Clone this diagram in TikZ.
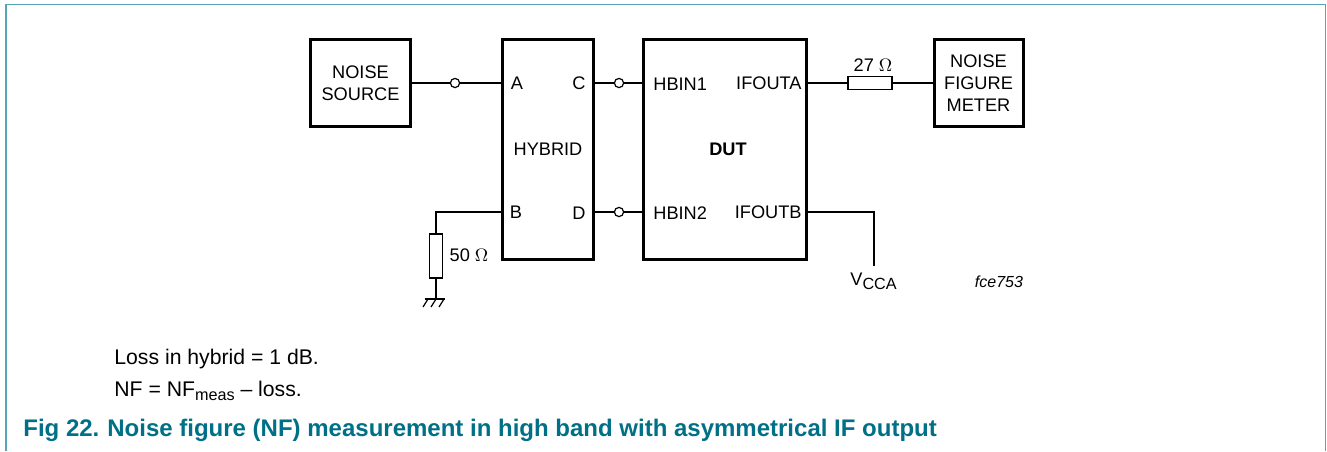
\documentclass[tikz,border=0pt]{standalone}
\usepackage{fontspec}
\setmainfont{Liberation Sans}
\usepackage{tikz}
\usetikzlibrary{positioning, calc}
\definecolor{nxpteal}{RGB}{0,112,135}
\definecolor{framelight}{RGB}{85,165,182}
\newcommand{\lowtext}[2]{\raisebox{-#1}{\fontsize{8.1}{9}\selectfont #2}}
\tikzset{
    blockbox/.style={draw, line width=1.5pt, inner sep=0pt, align=center, font=\fontsize{9.1}{11}\selectfont},
    wirenode/.style={draw, circle, line width=0.6pt, minimum size=4.6pt, inner sep=0pt, fill=white},
    resistor/.style={draw, line width=0.6pt, inner sep=0pt, fill=white},
    labeltext/.style={inner sep=0pt, font=\fontsize{9.1}{11}\selectfont},
    notetext/.style={inner sep=0pt, anchor=base west, font=\fontsize{10.6}{12}\selectfont},
    captiontext/.style={inner sep=0pt, anchor=base west, text=nxpteal, font=\fontsize{12}{14}\selectfont\bfseries},
    wire/.style={line width=0.6pt}
}
\begin{document}
\begin{tikzpicture}[x=0.5pt, y=-0.5pt]
    \useasboundingbox (0,0) rectangle (1327,451);

    % frame
    \draw[framelight, line width=0.9pt] (6,451) -- (6,4.5) -- (1325.5,4.5) -- (1325.5,451);

    % blocks
    \node[blockbox, minimum width=50pt, minimum height=43.5pt] (source) at (360.5,83) {NOISE\\SOURCE};
    \node[blockbox, minimum width=45.5pt, minimum height=110pt] (hybrid) at (547.5,149) {};
    \node[blockbox, minimum width=81.5pt, minimum height=110pt] (dut) at (724.5,149) {};
    \node[blockbox, minimum width=44.5pt, minimum height=43.5pt] (meter) at (978.5,83) {NOISE\\FIGURE\\METER};

    % labels inside the blocks
    \node[labeltext] (portA) at (517,83) {A};
    \node[labeltext] (portC) at (579,83) {C};
    \node[labeltext] (portB) at (516,212) {B};
    \node[labeltext] (portD) at (579,213) {D};
    \node[labeltext] (hybridname) at (548,149) {HYBRID};
    \node[labeltext, font=\fontsize{9.1}{11}\selectfont\bfseries] (dutname) at (728,149) {DUT};
    \node[labeltext, anchor=west] (hbinone) at (653,84) {HBIN1};
    \node[labeltext, anchor=west] (hbintwo) at (653,213) {HBIN2};
    \node[labeltext, anchor=east] (ifouta) at (802,83) {IFOUTA};
    \node[labeltext, anchor=east] (ifoutb) at (802,212) {IFOUTB};

    % anchors on the block sides
    \coordinate (srcout) at (source.east |- 0,83);
    \coordinate (hybA) at (hybrid.west |- 0,83);
    \coordinate (hybB) at (hybrid.west |- 0,212);
    \coordinate (hybC) at (hybrid.east |- 0,83);
    \coordinate (hybD) at (hybrid.east |- 0,212);
    \coordinate (dutone) at (dut.west |- 0,83);
    \coordinate (duttwo) at (dut.west |- 0,212);
    \coordinate (dutA) at (dut.east |- 0,83);
    \coordinate (dutB) at (dut.east |- 0,212);
    \coordinate (meterin) at (meter.west |- 0,83);

    % wires with the small circles
    \node[wirenode] (ringA) at (455,83) {};
    \node[wirenode] (ringC) at (619,83) {};
    \node[wirenode] (ringD) at (619,212) {};
    \draw[wire] (srcout) -- (ringA);
    \draw[wire] (ringA) -- (hybA);
    \draw[wire] (hybC) -- (ringC);
    \draw[wire] (ringC) -- (dutone);
    \draw[wire] (hybD) -- (ringD);
    \draw[wire] (ringD) -- (duttwo);

    % output resistor
    \node[resistor, minimum width=22pt, minimum height=6.5pt] (resout) at (870,83) {};
    \node[labeltext] (resoutlabel) at (873,65) {27 $\Omega$};
    \draw[wire] (dutA) -- (resout);
    \draw[wire] (resout) -- (meterin);

    % resistor to ground
    \node[resistor, minimum width=6.5pt, minimum height=22pt] (resgnd) at (436,256) {};
    \node[labeltext] (resgndlabel) at (469,255) {50 $\Omega$};
    \coordinate (bcorner) at (436,212);
    \coordinate (gnd) at (436,299);
    \draw[wire] (hybB) -- (bcorner) -- (resgnd);
    \draw[wire] (resgnd) -- (gnd);
    \draw[wire] (425,299) -- (445,299);
    \foreach \x in {428,436,444}
        \draw[wire] (\x,299) -- (\x-5,307);

    % supply
    \coordinate (vcorner) at (874,212);
    \coordinate (vend) at (874,266);
    \draw[wire] (dutB) -- (vcorner) -- (vend);
    \node[labeltext, anchor=base west] (vcca) at (850,285) {V\lowtext{2pt}{CCA}};
    \node[labeltext, font=\fontsize{8}{9}\selectfont\itshape] (figcode) at (999,282) {fce753};

    % notes and caption
    \node[notetext] (lossnote) at (114,364) {Loss in hybrid = 1 dB.};
    \node[notetext] (nfnote) at (114,396) {NF = NF\lowtext{2.2pt}{meas} -- loss.};
    \node[captiontext] (figno) at (23,436) {Fig 22.};
    \node[captiontext] (caption) at (107,436) {Noise figure (NF) measurement in high band with asymmetrical IF output};
\end{tikzpicture}
\end{document}
